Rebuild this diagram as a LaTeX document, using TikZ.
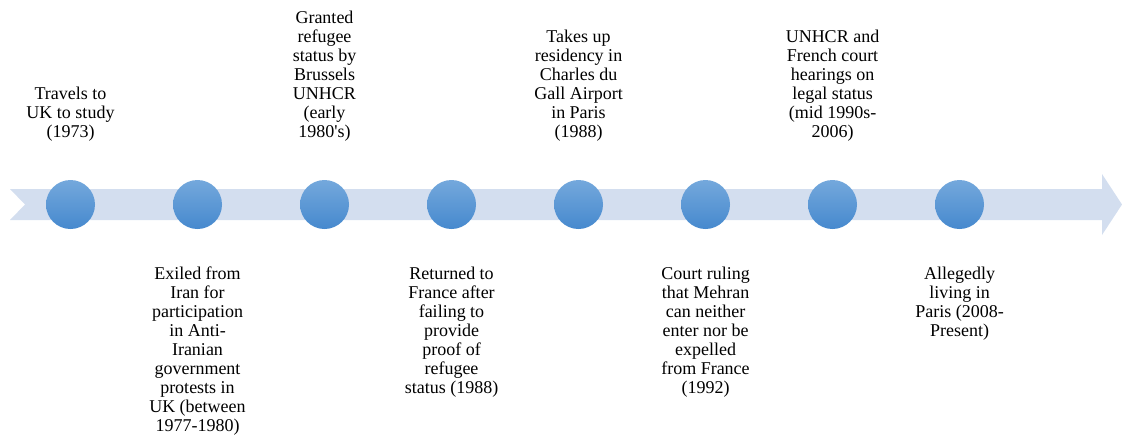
\documentclass[tikz,border=0pt]{standalone}
\usepackage{fontspec}
\setmainfont{Liberation Serif}
\definecolor{bandblue}{RGB}{211,222,239}
\definecolor{dottop}{RGB}{116,168,220}
\definecolor{dotbot}{RGB}{70,137,206}
\begin{document}
\begin{tikzpicture}[x=1pt,y=-1pt,
  dot/.style={circle,minimum size=49pt,inner sep=0pt,top color=dottop,bottom color=dotbot,draw=none},
  label/.style={font=\fontsize{18}{19}\selectfont,align=center,inner sep=0pt},
  above label/.style={label,anchor=south},
  below label/.style={label,anchor=north}]
\useasboundingbox (0,0) rectangle (1122,437);
\fill[bandblue] (10,189) -- (1102,189) -- (1102,174) -- (1122,204.5) -- (1102,235) -- (1102,220) -- (10,220) -- (25,204.5) -- cycle;
\foreach \i/\x in {1/70.5,2/197.5,3/324.5,4/451.5,5/578.5,6/705.5,7/832.5,8/959.5}
  \node[dot] (d\i) at (\x,204.5) {};
\node[above label] (t1) at (70.5,142) {Travels to\\UK to study\\(1973)};
\node[above label] (t3) at (324.5,142) {Granted\\refugee\\status by\\Brussels\\UNHCR\\(early\\1980\textquotesingle s)};
\node[above label] (t5) at (578.5,142) {Takes up\\residency in\\Charles du\\Gall Airport\\in Paris\\(1988)};
\node[above label] (t7) at (832.5,142) {UNHCR and\\French court\\hearings on\\legal status\\(mid 1990s-\\2006)};
\node[below label] (t2) at (197.5,267) {Exiled from\\Iran for\\participation\\in Anti-\\Iranian\\government\\protests in\\UK (between\\1977-1980)};
\node[below label] (t4) at (451.5,267) {Returned to\\France after\\failing to\\provide\\proof of\\refugee\\status (1988)};
\node[below label] (t6) at (705.5,267) {Court ruling\\that Mehran\\can neither\\enter nor be\\expelled\\from France\\(1992)};
\node[below label] (t8) at (959.5,267) {Allegedly\\living in\\Paris (2008-\\Present)};
\end{tikzpicture}
\end{document}
